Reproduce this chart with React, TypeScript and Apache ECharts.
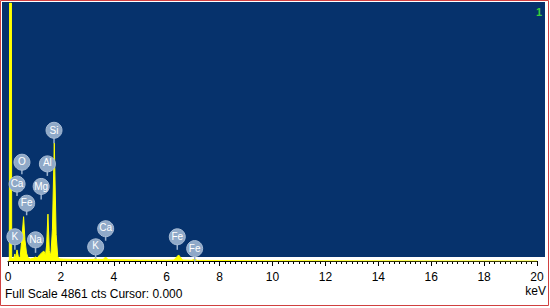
import React, { useEffect, useRef } from "react";
import * as echarts from "echarts";

// Spectrum (energy in keV, counts)
const energies = [
  0.0, 0.05, 0.06, 0.13, 0.14, 0.18, 0.22, 0.26, 0.29, 0.34, 0.4, 0.46, 0.52, 0.59, 0.64, 0.7,
  0.76, 0.85, 0.95, 1.04, 1.1, 1.2, 1.27, 1.35, 1.42, 1.46, 1.51, 1.56, 1.62, 1.68, 1.75, 1.82,
  1.88, 1.95, 2.1, 2.5, 3.0, 3.25, 3.31, 3.37, 3.6, 3.69, 3.78, 4.2, 5.0, 6.0, 6.27, 6.45, 6.6,
  6.95, 7.06, 7.15, 8.0, 10.0, 20.0,
];
const counts = [
  0, 0, 4861, 4861, 60, 40, 60, 133, 50, 209, 60, 70, 400, 835, 400, 150,
  60, 40, 50, 76, 50, 120, 150, 190, 120, 300, 883, 200, 100, 600, 2222, 500,
  80, 40, 35, 30, 28, 30, 57, 30, 30, 76, 28, 25, 18, 15, 18, 114, 18,
  14, 38, 12, 10, 5, 0,
];

// Element markers
const markerNames = ["Si", "O", "Al", "Ca", "Mg", "Fe", "K", "Na", "K", "Ca", "Fe", "Fe"];
const markerKeV = [1.74, 0.525, 1.487, 0.341, 1.254, 0.705, 0.26, 1.041, 3.313, 3.691, 6.4, 7.058];
const markerCounts = [2463, 1880, 1848, 1468, 1405, 1107, 456, 399, 285, 627, 456, 234];

const xTicks = ["0", "2", "4", "6", "8", "10", "12", "14", "16", "18", "20"];
const fullScale = 4861;

export default function App() {
  const ref = useRef<HTMLDivElement>(null);
  useEffect(() => {
    if (!ref.current) return;
    const chart = echarts.init(ref.current, null, { renderer: "svg" });
    const spectrum = energies.map((e, i) => [e, counts[i]]);
    const markers = markerNames.map((n, i) => [markerKeV[i], markerCounts[i], n]);
    const font = "Arial, 'Liberation Sans', sans-serif";
    chart.setOption({
      animation: false,
      backgroundColor: "#ffffff",
      grid: { left: 8, right: 13, top: 3, bottom: 47 },
      xAxis: {
        type: "value",
        min: 0,
        max: 20,
        interval: 2,
        axisLine: { show: true, lineStyle: { color: "#000", width: 1 } },
        axisTick: { show: true, length: 5, lineStyle: { color: "#000" } },
        minorTick: { show: true, splitNumber: 10, length: 3, lineStyle: { color: "#000" } },
        splitLine: { show: false },
        axisLabel: {
          margin: 10,
          fontSize: 12,
          fontFamily: font,
          color: "#000",
          formatter: (v: number) => xTicks[Math.round(v / 2)] ?? "",
        },
      },
      yAxis: { type: "value", min: 0, max: fullScale, show: false },
      graphic: [
        {
          type: "rect",
          z: -10,
          silent: true,
          shape: { x: 2, y: 2, width: 543, height: 255 },
          style: { fill: "#06326c" },
        },
        {
          type: "rect",
          z: 100,
          silent: true,
          shape: { x: 0.5, y: 0.5, width: 548, height: 305 },
          style: { fill: "none", stroke: "#d04040", lineWidth: 1 },
        },
        {
          type: "text",
          z: 100,
          left: 5,
          top: 288,
          style: { text: `Full Scale ${fullScale} cts Cursor: 0.000`, fontSize: 12, fontFamily: font, fill: "#000" },
        },
        {
          type: "text",
          z: 100,
          right: 4,
          top: 285,
          style: { text: "keV", fontSize: 12, fontFamily: font, fill: "#000" },
        },
        {
          type: "text",
          z: 100,
          right: 8,
          top: 6,
          style: { text: "1", fontSize: 11, fontWeight: "bold", fontFamily: font, fill: "#3ccf3c" },
        },
      ],
      series: [
        {
          type: "line",
          data: spectrum,
          symbol: "none",
          smooth: false,
          lineStyle: { color: "#ffff00", width: 1 },
          areaStyle: { color: "#ffff00", opacity: 1 },
          z: 2,
        },
        {
          type: "custom",
          clip: false,
          z: 5,
          data: markers,
          renderItem: (params: any, api: any) => {
            const p = api.coord([api.value(0), api.value(1)]);
            const r = 8;
            return {
              type: "group",
              children: [
                {
                  type: "line",
                  shape: { x1: p[0], y1: p[1] + r - 1, x2: p[0], y2: p[1] + r + 5 },
                  style: { stroke: "#9ab2cf", lineWidth: 1.5 },
                },
                {
                  type: "circle",
                  shape: { cx: p[0], cy: p[1], r },
                  style: { fill: "#8fa9c8", stroke: "#a9bdd6", lineWidth: 1 },
                },
                {
                  type: "text",
                  x: p[0],
                  y: p[1],
                  style: {
                    text: String(api.value(2)),
                    fill: "#ffffff",
                    fontSize: 10,
                    fontFamily: font,
                    align: "center",
                    verticalAlign: "middle",
                  },
                },
              ],
            };
          },
        },
      ],
    });
    return () => chart.dispose();
  }, []);
  return (
    <div
      ref={ref}
      style={{ position: "fixed", left: 0, top: 0, width: 550, height: 308 }}
    />
  );
}
